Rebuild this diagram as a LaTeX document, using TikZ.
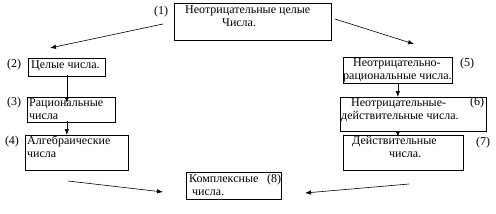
\documentclass[tikz,border=0pt]{standalone}
\usepackage{fontspec}
\setmainfont{Liberation Serif}
\usetikzlibrary{positioning,arrows.meta}

\begin{document}
\begin{tikzpicture}[x=1pt,y=-1pt,
  box/.style={draw,line width=0.7pt,inner sep=0pt,anchor=north west},
  txt/.style={anchor=north west,inner sep=0pt,align=left,font=\fontsize{12}{13}\selectfont},
  num/.style={inner sep=0pt,font=\fontsize{12}{12}\selectfont},
  arr/.style={-{Latex[length=6pt,width=4.5pt]},line width=0.6pt}]
\useasboundingbox (0,0) rectangle (496,214);

% Boxes: name/x/y/width/height
\foreach \n/\x/\y/\w/\h in {b1/174/3/157/37, b2/28/58/77/18, b3/27/97/88/25,
    b4/25/135/103/35, b5/343/57/109/26, b6/340/97/146/34, b7/343/135/120/35,
    b8/186/172/95/27} {
    \node[box,minimum width=\w pt,minimum height=\h pt] (\n) at (\x,\y) {};
}

% Texts inside the boxes
\node[txt] (t1) at (185,5) {Неотрицательные целые\\\hspace*{37pt}Числа.};
\node[txt] (t2) at (31,60) {Целые числа.};
\node[txt] (t3) at (29,98) {Рациональные\\числа};
\node[txt] (t4) at (27,136) {Алгебраические\\числа};
\node[txt] (t5) at (343,58) {\hspace*{10pt}Неотрицательно-\\рациональные числа.};
\node[txt] (t6) at (341,98) {\hspace*{10pt}Неотрицательные-\\действительные числа.};
\node[txt] (t7) at (352,136) {Действительные\\\hspace*{37pt}числа.};
\node[txt] (t8) at (189,174) {Комплексные\\\hspace*{3pt}числа.};

% Numbers
\foreach \k/\x/\y in {1/161/12, 2/14/65, 3/14/103, 4/12/142, 5/467/64,
    6/477/103, 7/483/143, 8/274/180} {
    \node[num] (k\k) at (\x,\y) {(\k)};
}

% Free ends of the slanted arrows
\coordinate (a1s) at (163,24);
\coordinate (a1e) at (50,48);
\coordinate (a2s) at (335,19);
\coordinate (a2e) at (414,44);
\coordinate (a3s) at (68,181);
\coordinate (a3e) at (163,192);
\coordinate (a4s) at (409,184);
\coordinate (a4e) at (305,193);

\draw[arr] (a1s) -- (a1e);
\draw[arr] (a2s) -- (a2e);
\draw[arr] (a3s) -- (a3e);
\draw[arr] (a4s) -- (a4e);

% Vertical arrows
\draw[arr] ([yshift=2pt]b2.south) -- ([yshift=-6pt]b2.south |- b3.north);
\draw[arr] ([yshift=2pt]b2.south |- b3.south) -- (b2.south |- b4.north);
\draw[arr] (b5.south) -- (b5.south |- b6.north);
\draw[arr] (b5.south |- b6.south) -- ([yshift=-2pt]b5.south |- b7.north);
\end{tikzpicture}
\end{document}
